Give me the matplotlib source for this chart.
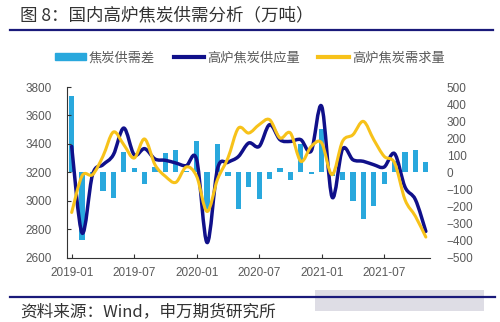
import matplotlib
matplotlib.use("Agg")
import matplotlib.pyplot as plt
import numpy as np
from matplotlib.path import Path
from matplotlib.patches import PathPatch, Patch, Rectangle
from matplotlib.lines import Line2D

plt.rcParams["font.family"] = ["Liberation Sans", "Noto Sans CJK SC", "DejaVu Sans"]

# ── data (万吨), monthly 2019-01 .. 2021-11 ─────────────────────
months = [f"{y}-{m:02d}" for y in (2019, 2020, 2021) for m in range(1, 13)][:35]
tick_labels = ["2019-01", "2019-07", "2020-01", "2020-07", "2021-01", "2021-07"]

gap = [450, -400, -10, -110, -150, 120, 27, -68, 32, 113, 133, 8,
       184, -215, 163, -20, -218, -84, -155, -40, 22, -45, 163, -12,
       256, -20, -45, -168, -272, -197, -66, 68, 121, 130, 61]
supply = [3382, 2772, 3183, 3253, 3323, 3511, 3323, 3366, 3293, 3284, 3265, 3246,
          3288, 2705, 3225, 3270, 3310, 3406, 3382, 3535, 3429, 3417, 3429, 3350,
          3664, 3025, 3363, 3288, 3277, 3253, 3237, 3331, 3096, 3007, 2784]
demand = [2917, 3175, 3183, 3312, 3483, 3394, 3300, 3434, 3253, 3171, 3129, 3237,
          3171, 2924, 3150, 3300, 3510, 3476, 3535, 3570, 3441, 3476, 3277, 3382,
          3406, 3183, 3417, 3464, 3558, 3429, 3312, 3265, 3007, 2890, 2744]

BAR_C = "#29a8dd"
NAVY = "#10108a"
GOLD = "#f7c21a"
TXT = "#595959"
CJK = ["Noto Sans CJK SC", "DejaVu Sans"]


def smooth_path(xs, ys):
    """Catmull-Rom style bezier through the points (Excel-like smoothed line)."""
    pts = np.column_stack([xs, ys]).astype(float)
    verts = [pts[0]]
    codes = [Path.MOVETO]
    n = len(pts)
    for i in range(n - 1):
        p0 = pts[max(i - 1, 0)]
        p1 = pts[i]
        p2 = pts[i + 1]
        p3 = pts[min(i + 2, n - 1)]
        verts += [p1 + (p2 - p0) / 6.0, p2 - (p3 - p1) / 6.0, p2]
        codes += [Path.CURVE4] * 3
    return Path(verts, codes)


fig = plt.figure(figsize=(5.0, 3.22), dpi=100)

# title + rule
fig.text(20 / 500, 1 - 15 / 322, "图 8：国内高炉焦炭供需分析（万吨）",
         family=CJK, fontsize=12.6, color="#333333", va="center", ha="left")
fig.add_artist(Line2D([10 / 500, 493 / 500], [1 - 30 / 322] * 2,
                      color="#1a1a7a", lw=1.6))

ax = fig.add_axes([67 / 500, 1 - 257.5 / 322, (430 - 67) / 500, (257.5 - 87) / 322])
ax2 = ax.twinx()

x = np.arange(len(months))
ax2.bar(x, gap, width=0.5, color=BAR_C, zorder=1)
ax2.set_ylim(-500, 500)
ax2.set_yticks(np.arange(-500, 501, 100))

ax.set_ylim(2600, 3800)
ax.set_yticks(np.arange(2600, 3801, 200))
ax.set_xlim(-0.45, 34.4)
ax.set_xticks([months.index(t) for t in tick_labels])
ax.set_xticklabels(tick_labels)

# lines above bars
ax.set_zorder(ax2.get_zorder() + 1)
ax.patch.set_visible(False)
ax.add_patch(PathPatch(smooth_path(x, supply), fill=False, ec=NAVY, lw=2.5,
                       capstyle="round", joinstyle="round"))
ax.add_patch(PathPatch(smooth_path(x, demand), fill=False, ec=GOLD, lw=2.2,
                       capstyle="round", joinstyle="round"))

for a in (ax, ax2):
    for s in ("top", "right"):
        a.spines[s].set_visible(False)
    a.spines["left"].set_visible(a is ax)
    a.spines["bottom"].set_visible(a is ax)
ax.spines["left"].set_color("#333333")
ax.spines["bottom"].set_color("#333333")
ax.tick_params(axis="y", direction="in", length=3, pad=11, labelsize=8.5,
               labelcolor=TXT, color="#333333")
ax.tick_params(axis="x", direction="in", length=3, pad=7, labelsize=8.5,
               labelcolor=TXT, color="#333333")
ax2.tick_params(axis="y", length=0, pad=12, labelsize=8.5, labelcolor=TXT)

handles = [Patch(color=BAR_C), Line2D([], [], color=NAVY, lw=3),
           Line2D([], [], color=GOLD, lw=3)]
fig.legend(handles, ["焦炭供需差", "高炉焦炭供应量", "高炉焦炭需求量"],
           loc="center", bbox_to_anchor=(250 / 500, 1 - 58 / 322), ncol=3,
           frameon=False, handlelength=2.3, handleheight=0.4,
           handletextpad=0.25, columnspacing=1.4,
           prop={"family": CJK, "size": 9.5}, labelcolor=TXT)

# footer rule, blurred watermark block, source
fig.add_artist(Line2D([10 / 500, 495 / 500], [1 - 297 / 322] * 2,
                      color="#1a1a7a", lw=1.6))
fig.add_artist(Rectangle((315 / 500, 1 - 311 / 322), 169 / 500, 21 / 322,
                         transform=fig.transFigure, color="#dedde5", lw=0))
fig.text(20 / 500, 1 - 312 / 322, "资料来源：Wind，申万期货研究所",
         family=CJK, fontsize=12, color="#333333", va="center", ha="left")

fig.savefig("out.png", dpi=100)
